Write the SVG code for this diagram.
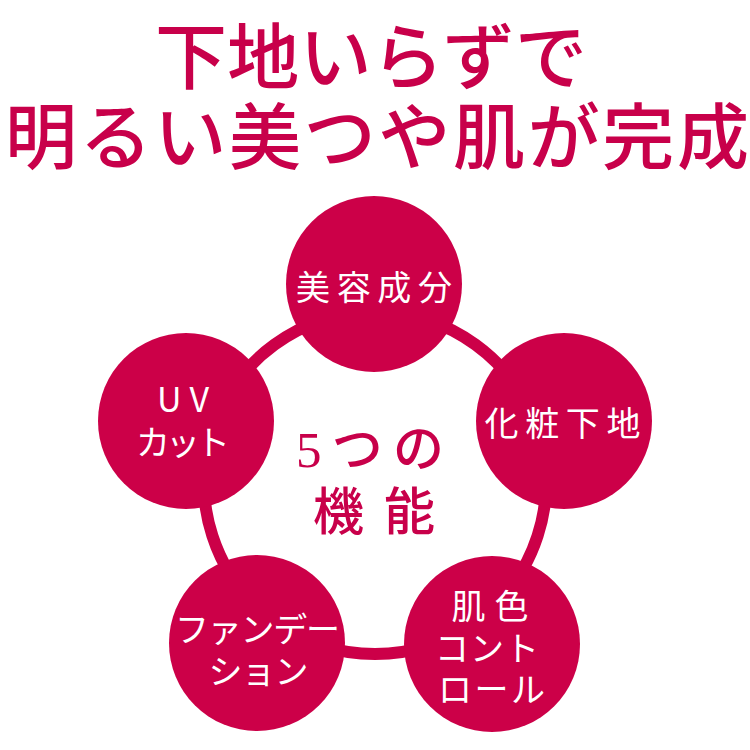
<svg xmlns="http://www.w3.org/2000/svg" width="750" height="750" viewBox="0 0 750 750">
<style>
.title{font-family:"Noto Sans CJK JP","Noto Sans CJK SC",sans-serif;font-size:72px;font-weight:500;fill:#C8004A;text-anchor:middle;dominant-baseline:central}
.center{font-family:"Liberation Serif","Noto Sans CJK JP",serif;font-size:51px;font-weight:500;fill:#C8004A;text-anchor:middle;dominant-baseline:central}
.node circle{fill:#CC0048}
.lbl{font-family:"Noto Sans CJK JP","Noto Sans CJK SC",sans-serif;font-size:34px;fill:#FFFFFF;text-anchor:middle;dominant-baseline:central}
.ring{fill:none;stroke:#CC0048;stroke-width:12}
</style>
<rect width="750" height="750" fill="#FFFFFF"/>
<g id="title">
<text class="title"><tspan x="371" y="51" textLength="432" lengthAdjust="spacing">下地いらずで</tspan><tspan x="377" y="131" textLength="744" lengthAdjust="spacing">明るい美つや肌が完成</tspan></text>
</g>
<g id="connectors">
<path class="ring" d="M375,312 A171,171 0 0 1 537.6,430.2"/>
<path class="ring" d="M537.6,430.2 A171,171 0 0 1 475.5,621.3"/>
<path class="ring" d="M475.5,621.3 A171,171 0 0 1 274.5,621.3"/>
<path class="ring" d="M274.5,621.3 A171,171 0 0 1 212.4,430.2"/>
<path class="ring" d="M212.4,430.2 A171,171 0 0 1 375,312"/>
</g>
<g id="center-label">
<text class="center"><tspan x="370" y="450" textLength="148" lengthAdjust="spacing">5つの</tspan><tspan x="374" y="513" textLength="122" lengthAdjust="spacing">機能</tspan></text>
</g>
<g id="node-biyou" class="node">
<circle cx="374" cy="284" r="88"/>
<text class="lbl" x="374" y="285" textLength="156" lengthAdjust="spacing">美容成分</text>
</g>
<g id="node-kesho" class="node">
<circle cx="564" cy="421" r="88"/>
<text class="lbl" x="562.5" y="421" textLength="156" lengthAdjust="spacing">化粧下地</text>
</g>
<g id="node-uv" class="node">
<circle cx="186" cy="421" r="88"/>
<text class="lbl"><tspan x="183" y="397" textLength="52" lengthAdjust="spacing">UV</tspan><tspan x="183" y="440" textLength="94" lengthAdjust="spacing">カット</tspan></text>
</g>
<g id="node-foundation" class="node">
<circle cx="257" cy="643" r="88"/>
<text class="lbl"><tspan x="257.5" y="627" textLength="165" lengthAdjust="spacing">ファンデー</tspan><tspan x="258.5" y="669" textLength="100" lengthAdjust="spacing">ション</tspan></text>
</g>
<g id="node-hadairo" class="node">
<circle cx="492" cy="644" r="88"/>
<text class="lbl"><tspan x="490" y="604" textLength="77" lengthAdjust="spacing">肌色</tspan><tspan x="487" y="646" textLength="104" lengthAdjust="spacing">コント</tspan><tspan x="491.5" y="687" textLength="107" lengthAdjust="spacing">ロール</tspan></text>
</g>
</svg>
